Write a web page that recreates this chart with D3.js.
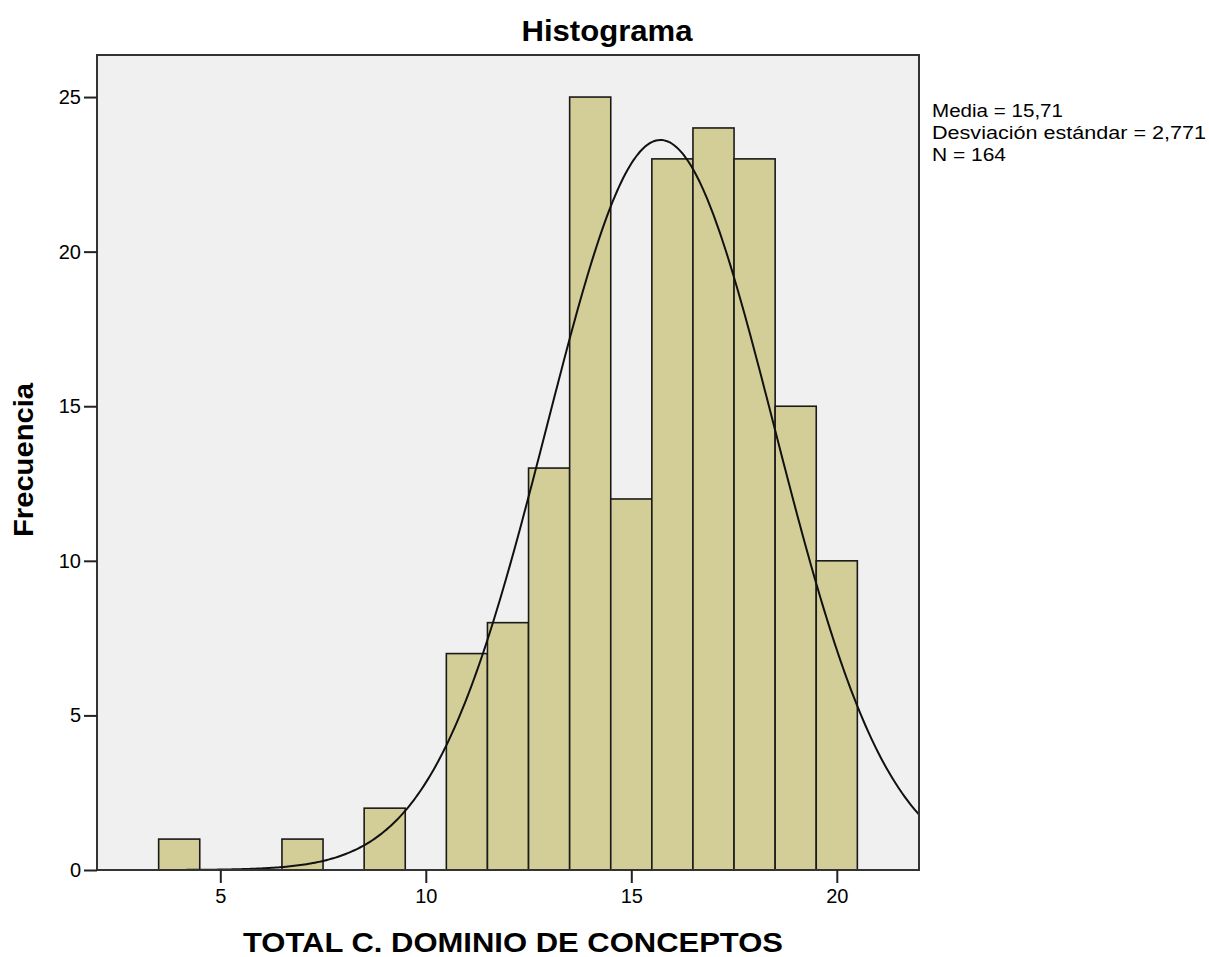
<!DOCTYPE html>
<html>
<head>
<meta charset="utf-8">
<script src="https://cdn.jsdelivr.net/npm/d3@7"></script>
<style>
  body { margin: 0; background: #fff; }
  text { font-family: Arial, "Liberation Sans", sans-serif; fill: #000; }
</style>
</head>
<body>
<div id="container"></div>
<script>
/* CONSTANTS AND GLOBALS */
const binCenters = [4, 7, 9, 11, 12, 13, 14, 15, 16, 17, 18, 19, 20]
const binCounts = [1, 1, 2, 7, 8, 13, 25, 12, 23, 24, 23, 15, 10]
const xTicks = [5, 10, 15, 20]
const yTicks = [0, 5, 10, 15, 20, 25]
const stats = { mean: 15.71, sd: 2.771, n: 164 }
const statLines = ["Media = 15,71", "Desviación estándar = 2,771", "N = 164"]

const width = 1209,
  height = 957,
  margin = { top: 55, bottom: 87, left: 97, right: 290 };

/* SCALES */
const xScale = d3.scaleLinear()
  .domain([2, 22])
  .range([margin.left, width - margin.right])

const yScale = d3.scaleLinear()
  .domain([0, 26.36])
  .range([height - margin.bottom, margin.top])

/* HTML ELEMENTS */
const svg = d3.select("#container")
  .append("svg")
  .attr("width", width)
  .attr("height", height)

// plot background
svg.append("rect")
  .attr("x", margin.left)
  .attr("y", margin.top)
  .attr("width", xScale.range()[1] - margin.left)
  .attr("height", yScale(0) - margin.top)
  .attr("fill", "#f0f0f0")

svg.append("clipPath")
  .attr("id", "plotClip")
  .append("rect")
  .attr("x", margin.left)
  .attr("y", margin.top)
  .attr("width", xScale.range()[1] - margin.left)
  .attr("height", yScale(0) - margin.top)

// bars
const bars = binCenters.map((c, i) => ({ x0: c - 0.5, x1: c + 0.5, count: binCounts[i] }))
svg.selectAll(".bar")
  .data(bars)
  .join("rect")
  .attr("class", "bar")
  .attr("x", d => xScale(d.x0))
  .attr("y", d => yScale(d.count))
  .attr("width", d => xScale(d.x1) - xScale(d.x0))
  .attr("height", d => yScale(0) - yScale(d.count))
  .attr("fill", "#d3ce97")
  .attr("stroke", "#1a1a1a")
  .attr("stroke-width", 1.6)

// normal curve from the reported mean / sd (bin width 1)
const normal = x => stats.n / (stats.sd * Math.sqrt(2 * Math.PI)) *
  Math.exp(-((x - stats.mean) ** 2) / (2 * stats.sd * stats.sd))
const curveX = d3.range(2, 22.01, 0.05)
svg.append("path")
  .datum(curveX)
  .attr("clip-path", "url(#plotClip)")
  .attr("fill", "none")
  .attr("stroke", "#111")
  .attr("stroke-width", 2)
  .attr("d", d3.line().x(d => xScale(d)).y(d => yScale(normal(d))))

// frame
svg.append("rect")
  .attr("x", margin.left)
  .attr("y", margin.top)
  .attr("width", xScale.range()[1] - margin.left)
  .attr("height", yScale(0) - margin.top)
  .attr("fill", "none")
  .attr("stroke", "#333")
  .attr("stroke-width", 2)

// axes
const xAxis = d3.axisBottom(xScale).tickValues(xTicks).tickSize(13).tickPadding(6)
const gx = svg.append("g")
  .attr("transform", `translate(0,${yScale(0)})`)
  .call(xAxis)
gx.select(".domain").remove()
gx.selectAll("line").attr("stroke", "#222").attr("stroke-width", 2)
gx.selectAll("text").style("font-size", "20px").attr("fill", "#222")

const yAxis = d3.axisLeft(yScale).tickValues(yTicks).tickSize(13).tickPadding(3)
const gy = svg.append("g")
  .attr("transform", `translate(${margin.left},0)`)
  .call(yAxis)
gy.select(".domain").remove()
gy.selectAll("line").attr("stroke", "#222").attr("stroke-width", 2)
gy.selectAll("text").style("font-size", "20px").attr("fill", "#222")

// TITLES
svg.append("text")
  .attr("x", 607)
  .attr("y", 41)
  .attr("text-anchor", "middle")
  .attr("textLength", 171)
  .attr("lengthAdjust", "spacingAndGlyphs")
  .style("font-size", "29px")
  .style("font-weight", "bold")
  .text("Histograma")

svg.append("text")
  .attr("x", 513)
  .attr("y", 952)
  .attr("text-anchor", "middle")
  .attr("textLength", 540)
  .attr("lengthAdjust", "spacingAndGlyphs")
  .style("font-size", "27px")
  .style("font-weight", "bold")
  .text("TOTAL C. DOMINIO DE CONCEPTOS")

svg.append("text")
  .attr("transform", "translate(33,460) rotate(-90)")
  .attr("text-anchor", "middle")
  .attr("textLength", 154)
  .attr("lengthAdjust", "spacingAndGlyphs")
  .style("font-size", "28px")
  .style("font-weight", "bold")
  .text("Frecuencia")

// stats legend
svg.selectAll(".stat")
  .data(statLines)
  .join("text")
  .attr("class", "stat")
  .attr("x", 932)
  .attr("y", (_, i) => 117 + i * 22)
  .attr("textLength", (_, i) => [131, 274, 74][i])
  .attr("lengthAdjust", "spacingAndGlyphs")
  .style("font-size", "17.5px")
  .text(d => d)
</script>
</body>
</html>
